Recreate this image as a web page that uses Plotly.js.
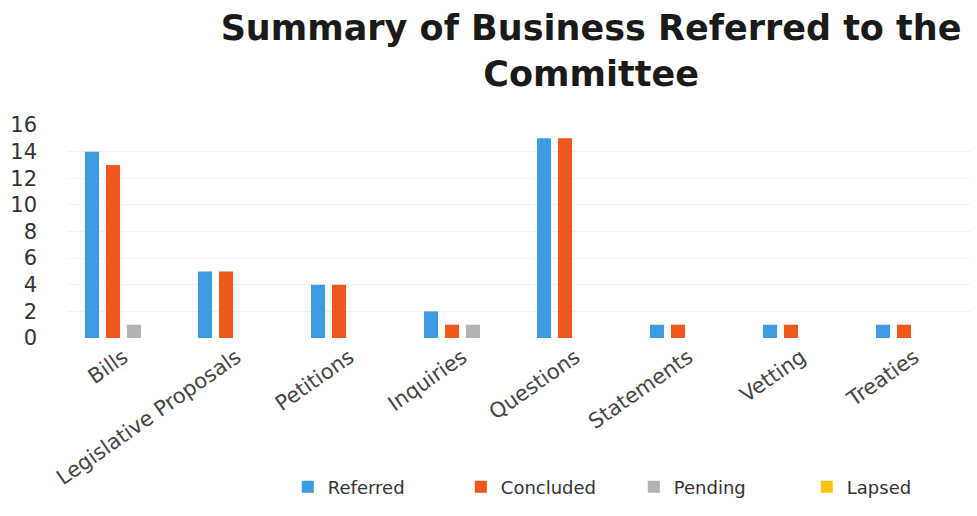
<!DOCTYPE html>
<html>
<head>
<meta charset="utf-8">
<script src="https://cdn.plot.ly/plotly-3.0.1.min.js"></script>
<style>html,body{margin:0;padding:0;background:#fff;}#chart{width:977px;height:516px;}</style>
</head>
<body>
<div id="chart"></div>
<script>
const categories = ["Bills", "Legislative Proposals", "Petitions", "Inquiries", "Questions", "Statements", "Vetting", "Treaties"];
const referred  = [14, 5, 4, 2, 15, 1, 1, 1];
const concluded = [13, 5, 4, 1, 15, 1, 1, 1];
const pending   = [1, 0, 0, 1, 0, 0, 0, 0];
const lapsed    = [0, 0, 0, 0, 0, 0, 0, 0];
const yTicks = [0, 2, 4, 6, 8, 10, 12, 14, 16];

const font = "DejaVu Sans, Verdana, sans-serif";
const mk = (name, y, color) => ({
  type: "bar", name: name, x: categories, y: y,
  marker: {color: color}, hoverinfo: "x+y+name"
});
const data = [
  mk("Referred", referred, "#3d9be0"),
  mk("Concluded", concluded, "#ef571d"),
  mk("Pending", pending, "#b3b3b3"),
  mk("Lapsed", lapsed, "#ffc20e")
];
const layout = {
  width: 977, height: 516,
  paper_bgcolor: "#fff", plot_bgcolor: "#fff",
  margin: {l: 67, r: 6, t: 125, b: 178, autoexpand: false},
  title: {text: "Summary of Business Referred to the<br>Committee", x: 0.605, xanchor: "center", y: 0.922, yanchor: "top",
          font: {family: font, size: 35, color: "#1a1a1a", weight: "bold"}},
  barmode: "group", bargap: 0.257, bargroupgap: 0.33,
  xaxis: {type: "category", tickangle: -35, showgrid: false, zeroline: false, showline: false, ticks: "", automargin: false,
          tickfont: {family: font, size: 21, color: "#444"}, ticklabelstandoff: 2},
  yaxis: {range: [0, 16], tickvals: yTicks, showgrid: true, gridcolor: "#f3f3f3", zeroline: false, showline: false, automargin: false,
          tickfont: {family: font, size: 21, color: "#333"}, ticklabelstandoff: 29},
  legend: {orientation: "h", x: 0.627, xanchor: "center", y: -0.70, yanchor: "middle",
           font: {family: font, size: 18, color: "#333"}, itemwidth: 30, entrywidth: 128, traceorder: "normal"},
  showlegend: true
};
Plotly.newPlot("chart", data, layout, {displayModeBar: false, staticPlot: true});
</script>
</body>
</html>
